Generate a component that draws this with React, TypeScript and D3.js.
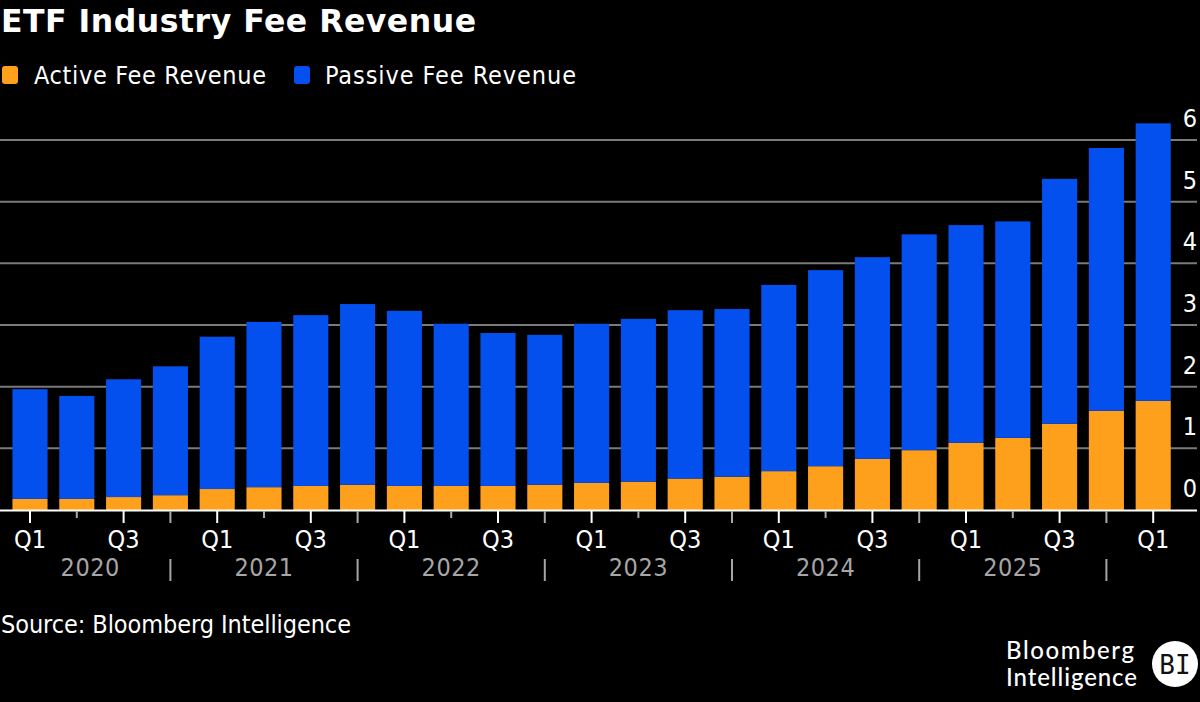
import React from "react";
import * as d3 from "d3";

const quarters = [
  "2020Q1","2020Q2","2020Q3","2020Q4","2021Q1","2021Q2","2021Q3","2021Q4","2022Q1","2022Q2","2022Q3","2022Q4",
  "2023Q1","2023Q2","2023Q3","2023Q4","2024Q1","2024Q2","2024Q3","2024Q4","2025Q1","2025Q2","2025Q3","2025Q4","2026Q1",
];
const activeFee = [0.18,0.18,0.21,0.24,0.34,0.37,0.39,0.41,0.39,0.39,0.39,0.41,0.44,0.46,0.51,0.54,0.63,0.71,0.83,0.97,1.09,1.17,1.40,1.61,1.77];
const totalFee = [1.96,1.85,2.12,2.33,2.81,3.05,3.16,3.34,3.23,3.02,2.87,2.84,3.02,3.10,3.24,3.26,3.65,3.89,4.10,4.47,4.62,4.68,5.37,5.87,6.27];
const passiveFee = totalFee.map((t, i) => t - activeFee[i]);
const yTicks = [0, 1, 2, 3, 4, 5, 6];
const years = ["2020", "2021", "2022", "2023", "2024", "2025"];
const title = "ETF Industry Fee Revenue";
const source = "Source: Bloomberg Intelligence";
const ORANGE = "#ffa01c";
const BLUE = "#0450ee";
const FONT = "'DejaVu Sans', sans-serif";

export default function App() {
  const x = d3.scaleBand<string>().domain(quarters).range([6.6, 1176.6]).paddingInner(0.25).paddingOuter(0.125);
  const y = d3.scaleLinear().domain([0, 6]).range([510, 140]);
  const stacked = d3.stack<number>().keys(["a", "p"]).value((i, k) => (k === "a" ? activeFee[i] : passiveFee[i]))(quarters.map((_, i) => i));
  const cx = (q: string) => x(q)! + x.bandwidth() / 2;
  const colors = [ORANGE, BLUE];
  const condensed = { fontStretch: "condensed" as const };
  return (
    <svg width={1200} height={702} style={{ position: "absolute", left: 0, top: 0, background: "#000", fontFamily: FONT }}>
      <rect width={1200} height={702} fill="#000" />
      <text x={1} y={32} fontSize={31.5} fontWeight={700} fill="#fff" textLength={475}>{title}</text>
      <rect x={2} y={66} width={16} height={18} rx={3} fill={ORANGE} />
      <text x={34} y={84} fontSize={25} fill="#fff" textLength={232} style={condensed}>Active Fee Revenue</text>
      <rect x={294} y={66} width={16} height={18} rx={3} fill={BLUE} />
      <text x={325} y={84} fontSize={25} fill="#fff" textLength={251} style={condensed}>Passive Fee Revenue</text>

      {yTicks.slice(1).map((t) => (
        <line key={t} x1={0} x2={1197} y1={y(t)} y2={y(t)} stroke="#7a7a7a" strokeWidth={2} />
      ))}
      {yTicks.map((t) => (
        <text key={t} x={1190} y={y(t) - 13} fontSize={25} fill="#fff" textAnchor="middle" style={condensed}>{t}</text>
      ))}
      {stacked.map((s, si) => (
        <g key={si} fill={colors[si]}>
          {s.map((d, i) => (
            <rect key={i} x={x(quarters[i])} width={x.bandwidth()} y={y(d[1])} height={y(d[0]) - y(d[1])} />
          ))}
        </g>
      ))}
      <line x1={0} x2={1197} y1={510.5} y2={510.5} stroke="#fff" strokeWidth={2} />
      {quarters.map((q) => {
        const major = q.endsWith("Q1") || q.endsWith("Q3");
        const yearEnd = q.endsWith("Q4");
        return (
          <g key={q}>
            <line x1={cx(q)} x2={cx(q)} y1={511} y2={major || yearEnd ? 523 : 518} stroke={major ? "#fff" : "#aaa"} strokeWidth={2} />
            {major && <text x={cx(q)} y={548} fontSize={25} fill="#fff" textAnchor="middle" style={condensed}>{q.slice(4)}</text>}
          </g>
        );
      })}
      {years.map((yr, i) => {
        const sep = cx(quarters[i * 4 + 3]);
        const prev = i === 0 ? 10 : cx(quarters[i * 4 - 1]);
        return (
          <g key={yr}>
            <text x={(sep + prev) / 2} y={576} fontSize={25} fill="#a6a6a6" textAnchor="middle" letterSpacing={0.5} style={condensed}>{yr}</text>
            <line x1={sep} x2={sep} y1={559} y2={581} stroke="#a6a6a6" strokeWidth={2} />
          </g>
        );
      })}
      <text x={1} y={633} fontSize={25} fill="#fff" textLength={350} style={condensed}>{source}</text>
      <text x={1006} y={659} fontSize={24} fontWeight={500} fill="#fff" fontFamily="Lato, sans-serif" textLength={128}>Bloomberg</text>
      <text x={1006} y={686} fontSize={24} fontWeight={500} fill="#fff" fontFamily="Lato, sans-serif" textLength={131}>Intelligence</text>
      <circle cx={1175} cy={664} r={23} fill="#fff" />
      <text x={1175} y={674} fontSize={26} fill="#111" textAnchor="middle" fontFamily="'DejaVu Sans Mono', monospace">BI</text>
    </svg>
  );
}
